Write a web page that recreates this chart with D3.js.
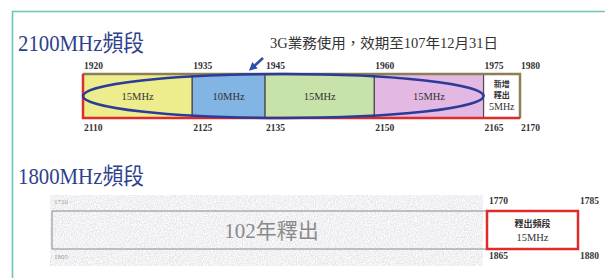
<!DOCTYPE html>
<html>
<head>
<meta charset="utf-8">
<script src="https://cdn.jsdelivr.net/npm/d3@7"></script>
<style>
  body { margin: 0; background: #fff; }
  svg { display: block; }
  .tick line, .domain { display: none; }
</style>
</head>
<body>
<div id="chart"></div>
<script>
// 2100MHz band: upper / lower edges and the blocks in between
var upperTicks = [1920, 1935, 1945, 1960, 1975, 1980];
var lowerTicks = [2110, 2125, 2135, 2150, 2165, 2170];
var blockStart = [1920, 1935, 1945, 1960, 1975];
var blockEnd   = [1935, 1945, 1960, 1975, 1980];
var blockLabel = ["15MHz", "10MHz", "15MHz", "15MHz", "5MHz"];
var blockColor = ["#eded8e", "#82b4e4", "#c8e3a9", "#e3b8e3", "#ffffff"];

// 1800MHz band
var upper1800 = [1710, 1770, 1785];
var lower1800 = [1805, 1865, 1880];

var W = 605, H = 278;
var serif = "'Liberation Serif','DejaVu Serif','Noto Sans CJK TC',serif";

var svg = d3.select("#chart").append("svg")
    .attr("width", W)
    .attr("height", H);

// speckled grey texture for the 102 block
var defs = svg.append("defs");
var f = defs.append("filter").attr("id", "grain")
    .attr("x", 0).attr("y", 0).attr("width", 1).attr("height", 1);
f.append("feTurbulence").attr("type", "fractalNoise")
    .attr("baseFrequency", 0.85).attr("numOctaves", 2).attr("seed", 3);
f.append("feColorMatrix").attr("type", "matrix")
    .attr("values", "0.45 0 0 0 0.66  0.45 0 0 0 0.66  0.45 0 0 0 0.68  0 0 0 0 1");

// teal frame
svg.append("path")
    .attr("d", "M12.5," + H + "V11.5H" + W)
    .attr("fill", "none")
    .attr("stroke", "#6cc7b8")
    .attr("stroke-width", 1.6);

// ---- 2100MHz ----
svg.append("text")
    .attr("x", 18).attr("y", 51)
    .attr("font-family", serif).attr("font-size", 23)
    .attr("textLength", 126).attr("lengthAdjust", "spacingAndGlyphs")
    .attr("fill", "#2f3f8e")
    .text("2100MHz頻段");

svg.append("text")
    .attr("x", 270).attr("y", 48)
    .attr("font-family", serif).attr("font-size", 14)
    .attr("textLength", 228).attr("lengthAdjust", "spacingAndGlyphs")
    .attr("fill", "#333")
    .text("3G業務使用，效期至107年12月31日");

var x1 = d3.scaleLinear().domain([1920, 1980]).range([83, 520]);
var top1 = 74, bot1 = 118;

var blocks = d3.range(blockStart.length);
svg.selectAll(".blk").data(blocks).enter().append("rect")
    .attr("class", "blk")
    .attr("x", i => x1(blockStart[i]))
    .attr("y", top1)
    .attr("width", i => x1(blockEnd[i]) - x1(blockStart[i]))
    .attr("height", bot1 - top1)
    .attr("fill", i => blockColor[i])
    .attr("stroke", "#4a4a4a")
    .attr("stroke-width", 1.2);

// outer edges: olive top/right, red left/bottom
svg.append("path")
    .attr("d", "M" + x1(1920) + "," + top1 + "H" + x1(1980) + "V" + bot1)
    .attr("fill", "none").attr("stroke", "#8c7f55").attr("stroke-width", 2.5);
svg.append("path")
    .attr("d", "M" + x1(1920) + "," + top1 + "V" + bot1 + "H" + x1(1980))
    .attr("fill", "none").attr("stroke", "#e02b2b").attr("stroke-width", 2.5);

svg.selectAll(".blab").data(blocks.slice(0, 4)).enter().append("text")
    .attr("class", "blab")
    .attr("x", i => (x1(blockStart[i]) + x1(blockEnd[i])) / 2)
    .attr("y", 100)
    .attr("text-anchor", "middle")
    .attr("font-family", serif).attr("font-size", 10.5)
    .attr("fill", "#333")
    .text(i => blockLabel[i]);

var cx5 = (x1(1975) + x1(1980)) / 2;
[["新增", 87, true], ["釋出", 98, true], [blockLabel[4], 110, false]].forEach(function(t) {
    svg.append("text")
        .attr("x", cx5).attr("y", t[1])
        .attr("text-anchor", "middle")
        .attr("font-family", serif)
        .attr("font-size", t[2] ? 8 : 10)
        .attr("font-weight", t[2] ? "bold" : "normal")
        .attr("fill", "#333")
        .text(t[0]);
});

// blue ellipse round the 3G blocks
svg.append("ellipse")
    .attr("cx", (x1(1920) + x1(1975)) / 2)
    .attr("cy", (top1 + bot1) / 2)
    .attr("rx", (x1(1975) - x1(1920)) / 2)
    .attr("ry", 22)
    .attr("fill", "none")
    .attr("stroke", "#2b3c98")
    .attr("stroke-width", 2.6);

// arrow
defs.append("marker").attr("id", "ah")
    .attr("viewBox", "0 0 10 10").attr("refX", 5).attr("refY", 5)
    .attr("markerWidth", 3.2).attr("markerHeight", 3.2).attr("orient", "auto")
    .append("path").attr("d", "M0,0L10,5L0,10z").attr("fill", "#2c4fa8");
svg.append("line")
    .attr("x1", 263).attr("y1", 58).attr("x2", 252).attr("y2", 68)
    .attr("stroke", "#2c4fa8").attr("stroke-width", 2.6)
    .attr("marker-end", "url(#ah)");

function tickAxis(gen, scale, vals, y, size, weight, color, dx) {
    var g = svg.append("g")
        .attr("transform", "translate(0," + y + ")")
        .call(gen(scale).tickValues(vals).tickSize(0).tickPadding(0).tickFormat(d3.format("d")));
    g.selectAll("text")
        .attr("text-anchor", "start")
        .attr("dx", dx)
        .attr("dy", 0)
        .attr("y", 0)
        .attr("font-family", serif)
        .attr("font-size", size)
        .attr("font-weight", weight)
        .attr("fill", color);
    return g;
}

tickAxis(d3.axisTop, x1, upperTicks, 69, 9.5, "bold", "#333", 0.5);
// lower axis uses the same positions, labelled with the paired frequency
var x1low = d3.scaleLinear().domain([2110, 2170]).range(x1.range());
tickAxis(d3.axisBottom, x1low, lowerTicks, 131, 9.5, "bold", "#333", 0.5);

// ---- 1800MHz ----
svg.append("text")
    .attr("x", 18).attr("y", 184)
    .attr("font-family", serif).attr("font-size", 23)
    .attr("textLength", 126).attr("lengthAdjust", "spacingAndGlyphs")
    .attr("fill", "#2f3f8e")
    .text("1800MHz頻段");

var x2 = d3.scaleLinear().domain(upper1800).range([52, 487, 578]);
var x2low = d3.scaleLinear().domain(lower1800).range(x2.range());
var top2 = 211, bot2 = 249;

svg.append("rect")
    .attr("x", x2(1710) - 2).attr("y", 195)
    .attr("width", x2(1770) - x2(1710) - 2).attr("height", 71)
    .attr("fill", "#e4e4e4")
    .attr("filter", "url(#grain)");

svg.append("path")
    .attr("d", "M" + x2(1770) + "," + top2 + "H" + x2(1710) + "V" + bot2 + "H" + x2(1770))
    .attr("fill", "none").attr("stroke", "#8a8a8a").attr("stroke-width", 1);

svg.append("text")
    .attr("x", (x2(1710) + x2(1770)) / 2 + 2).attr("y", 238)
    .attr("text-anchor", "middle")
    .attr("font-family", serif).attr("font-size", 21)
    .attr("fill", "#8a8a8a")
    .text("102年釋出");

svg.append("rect")
    .attr("x", x2(1770)).attr("y", top2)
    .attr("width", x2(1785) - x2(1770)).attr("height", bot2 - top2)
    .attr("fill", "#fff")
    .attr("stroke", "#e02b2b").attr("stroke-width", 2.5);

var cx15 = (x2(1770) + x2(1785)) / 2;
svg.append("text")
    .attr("x", cx15).attr("y", 227)
    .attr("text-anchor", "middle")
    .attr("font-family", serif).attr("font-size", 9).attr("font-weight", "bold")
    .attr("fill", "#333")
    .text("釋出頻段");
svg.append("text")
    .attr("x", cx15).attr("y", 241)
    .attr("text-anchor", "middle")
    .attr("font-family", serif).attr("font-size", 10.5)
    .attr("fill", "#333")
    .text("15MHz");

var a1 = tickAxis(d3.axisTop, x2, upper1800, 204, 9.5, "bold", "#333", 1.5);
var a2 = tickAxis(d3.axisBottom, x2low, lower1800, 259, 9.5, "bold", "#333", 1.5);
// the 1710/1805 edge labels are small and faded
[a1, a2].forEach(function(g) {
    g.selectAll(".tick text").filter(d => d === 1710 || d === 1805)
        .attr("font-size", 7).attr("font-weight", "normal").attr("fill", "#999");
});
</script>
</body>
</html>
